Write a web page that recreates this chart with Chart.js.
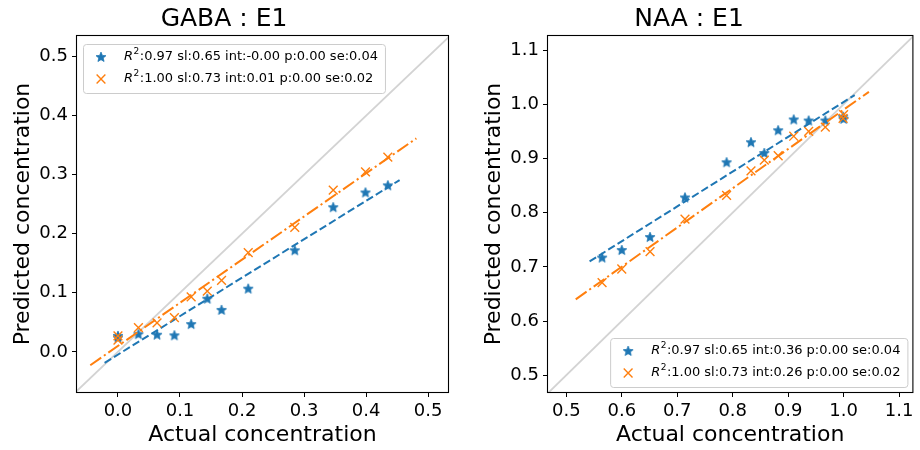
<!DOCTYPE html>
<html>
<head>
<meta charset="utf-8">
<script src="https://cdn.jsdelivr.net/npm/chart.js@4.4.0/dist/chart.umd.min.js"></script>
<style>
body { margin: 0; background: #fff; }
.panel { position: absolute; top: 0; width: 460px; height: 450px; }
</style>
</head>
<body>
<div class="panel" style="left:0"><canvas id="gaba" width="460" height="450"></canvas></div>
<div class="panel" style="left:460px"><canvas id="naa" width="460" height="450"></canvas></div>
<script>
// values
var gabaActual = [0, 0, 0.033, 0.063, 0.091, 0.118, 0.144, 0.167, 0.210, 0.285, 0.347, 0.399, 0.435];
var gabaBlue   = [0.027, 0.024, 0.030, 0.029, 0.028, 0.047, 0.090, 0.071, 0.107, 0.172, 0.245, 0.270, 0.282];
var gabaOrange = [0.027, 0.020, 0.041, 0.049, 0.058, 0.093, 0.103, 0.121, 0.168, 0.211, 0.274, 0.305, 0.330];
var gabaFitBlueX = [-0.0215, 0.454],  gabaFitBlueY = [-0.0186, 0.291];
var gabaFitOrangeX = [-0.0446, 0.481], gabaFitOrangeY = [-0.0226, 0.3616];
var gabaXRange = [-0.066, 0.532], gabaYRange = [-0.068, 0.535];
var gabaTicks = [0, 0.1, 0.2, 0.3, 0.4, 0.5];
var gabaLabels = ['R²:0.97 sl:0.65 int:-0.00 p:0.00 se:0.04', 'R²:1.00 sl:0.73 int:0.01 p:0.00 se:0.02'];

var naaActual = [0.5645, 0.600, 0.651, 0.714, 0.789, 0.833, 0.857, 0.882, 0.910, 0.937, 0.967, 0.999, 1.0];
var naaBlue   = [0.717, 0.731, 0.755, 0.828, 0.893, 0.930, 0.910, 0.952, 0.972, 0.970, 0.970, 0.977, 0.973];
var naaOrange = [0.671, 0.696, 0.728, 0.788, 0.832, 0.877, 0.897, 0.905, 0.941, 0.950, 0.958, 0.974, 0.981];
var naaFitBlueX = [0.542, 1.020],   naaFitBlueY = [0.710, 1.017];
var naaFitOrangeX = [0.517, 1.0456], naaFitOrangeY = [0.640, 1.023];
var naaXRange = [0.467, 1.124], naaYRange = [0.469, 1.126];
var naaTicks = [0.5, 0.6, 0.7, 0.8, 0.9, 1.0, 1.1];
var naaLabels = ['R²:0.97 sl:0.65 int:0.36 p:0.00 se:0.04', 'R²:1.00 sl:0.73 int:0.26 p:0.00 se:0.02'];

var BLUE = '#1f77b4', ORANGE = '#ff7f0e';
var FONT = '"DejaVu Sans", sans-serif';
Chart.defaults.color = '#000';
Chart.defaults.font.family = FONT;

// filled 5 point star used as pointStyle (chart.js 'star' is only lines)
function starImage(color, r) {
	var c = document.createElement('canvas');
	c.width = c.height = 14;
	var g = c.getContext('2d');
	g.fillStyle = color;
	g.strokeStyle = color;
	g.lineWidth = 0.8;
	g.beginPath();
	for (var i = 0; i < 10; i++) {
		var rad = i % 2 ? r * 0.45 : r;
		var ang = -Math.PI / 2 + i * Math.PI / 5;
		g.lineTo(7 + rad * Math.cos(ang), 7.3 + rad * Math.sin(ang));
	}
	g.closePath();
	g.fill();
	g.stroke();
	return c;
}
var star = starImage(BLUE, 5.2);

function pts(xs, ys) {
	return xs.map(function (x, i) { return {x: x, y: ys[i]}; });
}

// box round the axes (matplotlib spines)
var frame = {
	id: 'frame',
	afterDatasetsDraw: function (chart) {
		var a = chart.chartArea, ctx = chart.ctx;
		ctx.save();
		ctx.strokeStyle = '#000';
		ctx.lineWidth = 1.1;
		ctx.strokeRect(a.left - 0.5, a.top - 0.5, a.right - a.left + 1, a.bottom - a.top + 1);
		ctx.restore();
	}
};

// label "R²:..." with italic R and small raised 2
function drawLabel(ctx, text, x, y, draw) {
	var rest = text.replace('R²', '');
	var w = 0;
	ctx.font = 'italic 13px ' + FONT;
	if (draw) ctx.fillText('R', x, y);
	w += ctx.measureText('R').width;
	ctx.font = '9px ' + FONT;
	if (draw) ctx.fillText('2', x + w + 0.5, y - 5);
	w += ctx.measureText('2').width + 1;
	ctx.font = '13px ' + FONT;
	if (draw) ctx.fillText(rest, x + w, y);
	w += ctx.measureText(rest).width;
	return w;
}

function drawMarker(ctx, ds, x, y) {
	if (ds.pointStyle === 'crossRot') {
		var d = ds.pointRadius * Math.SQRT1_2;
		ctx.strokeStyle = ds.borderColor;
		ctx.lineWidth = ds.borderWidth;
		ctx.beginPath();
		ctx.moveTo(x - d, y - d); ctx.lineTo(x + d, y + d);
		ctx.moveTo(x + d, y - d); ctx.lineTo(x - d, y + d);
		ctx.stroke();
	} else {
		ctx.drawImage(ds.pointStyle, x - 7, y - 7);
	}
}

// legend drawn inside the axes, like matplotlib
var boxLegend = {
	id: 'boxLegend',
	afterDraw: function (chart, args, opts) {
		var ctx = chart.ctx, a = chart.chartArea;
		var items = chart.data.datasets.filter(function (d) { return d.inLegend; });
		ctx.save();
		ctx.textBaseline = 'middle';
		ctx.fillStyle = '#000';
		var tw = 0;
		items.forEach(function (d) { tw = Math.max(tw, drawLabel(ctx, d.label, 0, 0, false)); });
		var w = 41 + tw + 7, h = 49;
		var x = opts.corner === 'tl' ? a.left + 6 : a.right - 5 - w;
		var y = opts.corner === 'tl' ? a.top + 8 : a.bottom - 5 - h;
		ctx.beginPath();
		ctx.roundRect(x + 0.5, y + 0.5, w, h, 3);
		ctx.fillStyle = 'rgba(255,255,255,0.8)';
		ctx.fill();
		ctx.strokeStyle = '#cccccc';
		ctx.lineWidth = 1;
		ctx.stroke();
		items.forEach(function (d, i) {
			var ry = y + 13 + i * 22;
			drawMarker(ctx, d, x + 18, ry);
			ctx.fillStyle = '#000';
			drawLabel(ctx, d.label, x + 41, ry, true);
		});
		ctx.restore();
	}
};

function makeChart(id, title, actual, blue, orange, fitB, fitO, xr, yr, ticks, labels, corner, titleLeft, padRight) {
	var axis = function (range, isX) {
		return {
			type: 'linear',
			min: range[0],
			max: range[1],
			afterBuildTicks: function (scale) {
				scale.ticks = ticks.map(function (v) { return {value: v}; });
			},
			afterFit: function (scale) {
				if (isX) scale.height = 58; else scale.width = titleLeft + 67;
			},
			grid: {drawOnChartArea: false, drawTicks: true, tickLength: 5, color: '#000', lineWidth: 1},
			border: {display: false},
			ticks: {
				font: {size: 18},
				padding: 4,
				maxRotation: 0,
				callback: function (v) { return v.toFixed(1); }
			},
			title: {
				display: true,
				text: isX ? 'Actual concentration' : 'Predicted concentration',
				font: {size: 22},
				padding: isX ? {top: 0, bottom: 2} : {top: titleLeft, bottom: 0}
			}
		};
	};
	return new Chart(document.getElementById(id), {
		type: 'scatter',
		data: {
			datasets: [{
				data: [{x: -1, y: -1}, {x: 2, y: 2}],
				showLine: true, pointRadius: 0, borderColor: '#d3d3d3', borderWidth: 1.8, order: 9
			}, {
				label: labels[0], inLegend: true,
				data: pts(actual, blue),
				pointStyle: star, pointRadius: 5, backgroundColor: BLUE, borderColor: BLUE, order: 4
			}, {
				data: pts(fitB[0], fitB[1]),
				showLine: true, pointRadius: 0, borderColor: BLUE, borderWidth: 2, borderDash: [7.7, 3.3], order: 3
			}, {
				label: labels[1], inLegend: true,
				data: pts(actual, orange),
				pointStyle: 'crossRot', pointRadius: 6.2, borderWidth: 1.4, backgroundColor: ORANGE, borderColor: ORANGE, order: 2
			}, {
				data: pts(fitO[0], fitO[1]),
				showLine: true, pointRadius: 0, borderColor: ORANGE, borderWidth: 2, borderDash: [13.3, 3.3, 2.1, 3.3], order: 1
			}]
		},
		options: {
			responsive: false,
			animation: false,
			events: [],
			layout: {padding: {left: 0, right: padRight, top: 0, bottom: 0}},
			scales: {x: axis(xr, true), y: axis(yr, false)},
			plugins: {
				legend: {display: false},
				tooltip: {enabled: false},
				title: {display: true, text: title, font: {size: 25, weight: 'normal'}, padding: {top: 4, bottom: 2}},
				boxLegend: {corner: corner}
			}
		},
		plugins: [frame, boxLegend]
	});
}

makeChart('gaba', 'GABA : E1', gabaActual, gabaBlue, gabaOrange,
	[gabaFitBlueX, gabaFitBlueY], [gabaFitOrangeX, gabaFitOrangeY],
	gabaXRange, gabaYRange, gabaTicks, gabaLabels, 'tl', 10, 12);
makeChart('naa', 'NAA : E1', naaActual, naaBlue, naaOrange,
	[naaFitBlueX, naaFitBlueY], [naaFitOrangeX, naaFitOrangeY],
	naaXRange, naaYRange, naaTicks, naaLabels, 'br', 21, 2);
</script>
</body>
</html>
